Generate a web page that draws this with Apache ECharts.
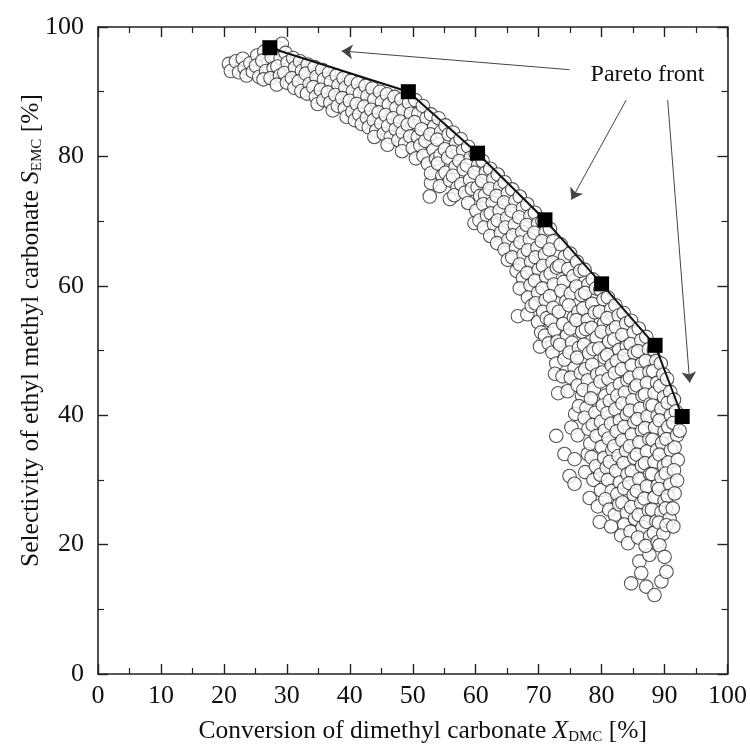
<!DOCTYPE html>
<html lang="en">
<head>
    <meta charset="UTF-8">
    <title>Pareto front</title>
    <script src="https://cdn.jsdelivr.net/npm/echarts@6/dist/echarts.min.js"></script>
</head>
<body style="margin:0;background:#fff;">
<div id="main" style="width: 750px;height:752px;"></div>
<script type="text/javascript">
    // pareto front points
    var paretoX = [27.3, 49.3, 60.3, 71.0, 80.0, 88.5, 92.8];
    var paretoY = [96.8, 90.0, 80.5, 70.2, 60.3, 50.8, 39.8];

    var cloudUpper = [
        [20.8,94.3],[21.1,93.2],[21.9,94.7],[22.4,93.0],[23.0,95.1],[23.3,93.7],[23.6,92.5],[24.2,94.4],[24.6,93.1],
        [25.3,95.6],[25.1,94.0],[25.6,92.3],[26.4,96.2],[26.1,94.8],[26.7,93.2],[26.3,91.9],[27.6,95.3],[27.9,93.6],
        [27.4,92.1],[28.7,96.8],[29.2,97.4],[29.0,95.2],[28.5,93.9],[28.9,92.5],[28.4,91.1],[29.8,96.0],[30.1,94.5],
        [29.6,92.9],[30.0,91.4],[31.0,95.2],[31.3,93.7],[30.8,92.1],[31.2,90.6],[32.1,94.7],[32.4,93.2],[31.9,91.6],
        [32.3,90.1],[33.3,94.2],[33.0,92.8],[33.6,91.2],[33.2,89.7],[34.4,93.8],[34.7,92.3],[34.2,90.7],[34.6,89.2],
        [34.9,88.1],[35.6,93.4],[35.9,91.9],[35.4,90.3],[35.8,88.7],[36.7,92.9],[37.0,91.5],[36.5,89.9],[36.9,88.3],
        [37.3,87.1],[37.9,92.5],[38.2,91.0],[37.7,89.5],[38.1,87.8],[39.0,92.1],[39.3,90.6],[38.8,89.0],[39.2,87.4],
        [39.5,86.1],[40.2,91.7],[40.5,90.1],[40.0,88.6],[40.4,86.9],[40.8,85.6],[41.3,91.3],[41.6,89.7],[41.1,88.1],
        [41.5,86.5],[41.9,85.0],[42.5,90.9],[42.8,89.3],[42.3,87.7],[42.7,86.0],[43.0,84.5],[43.6,90.5],[43.9,88.8],
        [43.4,87.2],[43.8,85.6],[44.2,84.0],[43.9,83.0],[44.8,90.0],[45.1,88.4],[44.6,86.8],[45.0,85.1],[45.4,83.5],
        [45.9,89.6],[46.2,88.0],[45.7,86.4],[46.1,84.7],[46.5,83.0],[46.0,81.8],[47.1,89.2],[47.4,87.5],[46.9,85.9],
        [47.3,84.2],[47.7,82.5],[48.2,88.8],[48.5,87.1],[48.0,85.4],[48.4,83.7],[48.8,82.0],[48.3,80.8],[49.4,88.3],
        [49.7,86.6],[49.2,84.9],[49.6,83.1],[50.0,81.3]
    ];
    var cloudMiddle = [
        [50.4,88.7],[50.9,86.6],[50.3,85.3],[50.8,83.0],[51.2,81.7],[50.5,79.7],
        [51.6,87.8],[52.2,85.9],[51.4,84.2],[52.0,82.4],[51.7,80.1],[52.4,78.9],[52.7,73.8],[52.9,75.9],
        [52.9,86.5],[53.4,84.6],[52.8,83.4],[53.3,81.0],[53.7,79.6],[52.9,77.4],
        [54.1,85.9],[54.5,83.8],[53.9,82.6],[54.4,80.2],[54.0,78.9],[54.7,77.0],[54.3,75.4],
        [55.2,84.8],[55.7,83.4],[55.1,81.1],[55.6,79.8],[55.2,77.5],[55.9,76.3],[55.9,73.4],
        [56.4,83.7],[56.9,82.0],[56.3,80.7],[56.8,78.4],[56.4,77.0],[57.1,75.2],[56.6,74.0],
        [57.6,82.7],[58.0,80.9],[57.4,79.3],[58.1,78.0],[57.7,75.7],[58.3,74.4],
        [58.8,81.5],[59.2,79.8],[58.6,78.6],[59.1,76.4],[59.4,75.0],[58.8,72.8],[59.8,69.7],
        [60.0,80.4],[60.4,78.7],[59.8,77.5],[60.3,75.2],[60.7,73.9],[60.1,71.6],[60.6,70.1],
        [61.1,79.3],[61.6,77.5],[61.0,76.2],[61.5,74.0],[61.2,72.6],[61.8,70.9],[61.3,69.0],
        [62.3,78.1],[62.8,76.5],[62.2,75.0],[62.7,72.8],[62.4,71.2],[62.9,69.5],[62.3,67.7],
        [63.5,77.2],[63.9,75.3],[63.3,73.9],[63.8,71.6],[63.5,70.1],[64.0,68.2],[63.4,66.6],
        [64.6,76.0],[65.1,74.3],[64.5,72.9],[65.0,70.5],[64.7,69.0],[65.2,67.1],[64.6,65.6],[65.1,64.0],
        [65.8,74.9],[66.3,73.1],[65.7,71.6],[66.2,69.4],[65.9,67.8],[66.4,65.9],[65.8,64.4],[66.5,62.3],[66.7,55.3],
        [67.0,73.8],[67.5,72.0],[66.9,70.6],[67.4,68.3],[67.1,66.7],[67.6,64.8],[67.0,63.3],[67.5,61.2],[67.0,59.6],
        [68.2,55.6],
        [68.2,72.6],[68.7,70.8],[68.1,69.4],[68.6,67.2],[68.3,65.5],[68.8,63.7],[68.2,62.0],[68.7,60.1],[68.3,58.2],
        [68.9,56.9],
        [69.4,71.3],[69.9,69.6],[69.3,68.2],[69.8,65.9],[69.5,64.4],[70.0,62.5],[69.4,60.8],[69.9,58.9],[69.5,57.3],
        [69.9,54.4],[70.4,52.8],[70.2,50.6],
        [70.6,70.0],[71.1,68.3],[70.5,66.9],[71.0,64.8],[70.7,63.1],[71.2,61.4],[70.6,59.6],[71.1,57.8],[70.7,56.0],
        [71.3,55.0],[71.0,52.3],[71.6,51.1],
        [71.8,68.8],[72.3,66.9],[71.7,65.6],[72.2,63.6],[71.9,61.9],[72.4,60.2],[71.8,58.4],[72.3,56.6],[71.9,54.6],
        [72.5,53.2],[72.2,49.7],[72.8,48.0],[72.6,46.4],[73.0,51.4],[72.9,62.8]
    ];
    var cloudLower = [
        [73.5,66.4],[74.2,64.5],[73.3,63.1],[74.0,60.6],[73.6,59.2],[74.4,57.6],[73.2,56.0],[73.9,54.1],[74.5,52.3],
        [73.4,50.9],[74.1,48.6],[73.8,46.0],[73.1,43.4],[72.8,36.8],
        [75.0,65.0],[74.7,62.6],[75.5,61.5],[75.1,58.8],[74.8,57.0],[75.6,55.1],[75.0,53.4],[75.3,51.2],[74.9,49.7],
        [75.7,47.3],[75.1,45.8],[74.6,43.7],[75.2,38.1],[74.1,34.0],[74.9,30.6],[75.8,40.2],
        [76.1,63.7],[76.6,62.3],[76.0,59.9],[76.8,58.6],[76.3,56.0],[76.0,54.7],[76.9,52.9],[76.4,50.4],[76.1,48.9],
        [76.7,46.5],[76.2,44.6],[76.9,43.0],[76.4,41.4],[76.2,36.9],[75.7,33.2],[75.7,29.4],
        [77.3,62.5],[77.9,60.2],[77.4,58.9],[77.1,56.5],[77.8,54.7],[77.5,53.3],[77.2,50.9],[78.0,49.6],[77.4,47.1],
        [77.8,45.4],[77.1,43.9],[77.6,41.1],[77.3,39.6],[77.9,37.9],[77.8,34.0],[77.4,31.2],[78.2,35.6],
        [78.6,61.0],[79.1,59.6],[78.5,57.2],[78.9,55.9],[78.4,53.5],[79.2,52.0],[78.7,50.2],[78.5,47.8],[79.3,46.3],
        [78.8,44.1],[78.3,42.6],[79.0,40.4],[78.6,38.5],[79.2,36.8],[78.4,33.5],[78.1,27.2],[78.7,30.0],[79.1,32.1],
        [79.8,59.4],[80.3,57.9],[79.7,56.0],[80.4,54.2],[80.0,52.9],[79.6,50.3],[80.5,48.9],[80.1,46.6],[79.8,45.2],
        [80.6,43.0],[80.2,41.5],[79.9,39.0],[80.5,37.6],[80.0,35.1],[80.4,33.4],[79.8,30.8],[79.4,25.9],[79.9,28.4],
        [80.8,31.9],
        [81.0,58.2],[81.5,56.4],[80.9,55.0],[81.7,53.1],[81.2,51.4],[80.9,49.3],[81.6,47.7],[81.1,45.6],[81.8,44.0],
        [81.3,42.2],[80.9,40.3],[81.5,38.7],[81.1,36.4],[81.7,34.6],[81.3,32.8],[81.0,30.0],[81.6,28.3],[80.6,27.0],
        [79.7,23.5],[81.2,25.4],
        [82.2,57.0],[82.7,55.4],[82.3,53.6],[82.0,51.7],[82.8,50.1],[82.4,48.4],[82.1,46.5],[82.9,44.8],[82.5,43.0],
        [82.2,40.9],[82.9,39.2],[82.4,37.5],[82.0,35.2],[82.7,33.7],[82.3,31.4],[82.9,29.6],[82.5,27.8],[82.1,24.6],
        [82.8,26.2],[81.5,22.8],
        [83.5,55.8],[83.9,54.2],[83.3,52.4],[84.0,50.6],[83.6,49.2],[83.2,47.1],[84.1,45.4],[83.7,43.5],[83.3,41.8],
        [84.0,40.1],[83.6,38.2],[83.3,36.1],[83.9,34.5],[83.5,32.6],[84.1,30.9],[83.6,28.7],[83.3,26.5],[84.0,24.9],
        [83.6,23.1],[83.1,21.4],
        [84.7,54.6],[85.1,52.8],[84.6,51.0],[85.2,49.6],[84.8,47.7],[84.5,45.8],[85.3,44.2],[84.9,42.3],[84.5,40.7],
        [85.2,38.9],[84.8,37.0],[84.5,35.2],[85.2,33.4],[84.8,31.3],[84.4,29.5],[85.1,27.7],[84.7,25.8],[85.3,24.0],
        [84.6,22.0],[84.2,20.2],[84.7,14.0],
        [85.9,53.4],[86.3,51.6],[85.8,49.9],[86.4,48.0],[86.0,46.4],[85.6,44.6],[86.5,43.0],[86.1,41.0],[85.7,39.4],
        [86.4,37.6],[86.0,35.8],[85.6,33.9],[86.4,32.2],[86.0,30.1],[85.6,28.3],[86.3,26.4],[85.9,24.6],[86.5,22.7],
        [85.8,21.1],[86.0,17.4],[86.3,15.6],
        [87.1,52.1],[87.5,50.2],[87.0,48.4],[87.6,46.7],[87.2,45.0],[86.9,43.2],[87.7,41.7],[87.3,39.8],[86.9,38.0],
        [87.6,36.3],[87.2,34.4],[86.9,32.6],[87.7,30.9],[87.2,29.0],[86.8,27.1],[87.5,25.3],[87.1,23.5],[87.7,21.3],
        [87.6,18.4],[87.1,13.5],[87.0,19.8],
        [88.3,50.1],[88.7,48.4],[88.2,46.8],[88.8,45.0],[88.4,43.4],[88.1,41.5],[88.9,39.9],[88.5,38.1],[88.1,36.2],
        [88.8,34.6],[88.4,32.8],[88.0,30.9],[88.9,29.1],[88.4,27.3],[88.0,25.4],[88.7,23.6],[88.3,21.8],[88.9,20.4],
        [88.4,12.2],
        [89.4,48.0],[89.8,46.3],[89.3,44.5],[89.9,42.8],[89.5,41.0],[89.2,39.2],[90.0,37.5],[89.6,35.7],[89.2,33.9],
        [89.9,32.2],[89.5,30.4],[89.1,28.6],[90.0,26.8],[89.5,25.0],[89.1,23.4],[89.8,21.7],[89.2,19.9],[90.0,18.1],
        [89.5,14.3],
        [90.4,45.6],[90.9,43.6],[90.5,41.9],[91.0,40.0],[90.6,38.2],[90.3,36.3],[91.0,34.6],[90.6,32.7],[90.2,31.0],
        [90.9,29.3],[90.5,27.5],[90.2,25.6],[90.8,24.0],[90.3,23.0],[90.3,15.8],
        [91.5,42.4],[91.8,40.6],[91.4,38.8],[92.0,36.9],[91.6,35.0],[92.1,33.1],[91.5,31.5],[92.0,29.9],[91.6,27.9],
        [91.3,25.6],[91.4,22.8],[92.4,37.6]
    ];

    // annotation: label position and arrow start/end
    var noteText = 'Pareto front';
    var notePos = [87.3, 92.7];
    var arrows = [
        [[74.9, 93.4], [38.7, 96.3]],
        [[83.9, 88.7], [75.2, 73.3]],
        [[90.5, 88.7], [94.0, 45.0]]
    ];

    var xTicks = [0, 10, 20, 30, 40, 50, 60, 70, 80, 90, 100];
    var yTicks = [0, 20, 40, 60, 80, 100];

    var font = '"Liberation Serif", "Times New Roman", serif';
    var ink = '#111';

    var cloud = cloudUpper.concat(cloudMiddle, cloudLower);
    var pareto = [];
    for (var i = 0; i < paretoX.length; i++) {
        pareto.push([paretoX[i], paretoY[i]]);
    }

    var arrowLines = [];
    for (var j = 0; j < arrows.length; j++) {
        arrowLines.push([{coord: arrows[j][0]}, {coord: arrows[j][1]}]);
    }

    function axisBase(min, max, step, showLabel, ticks) {
        return {
            type: 'value',
            min: min,
            max: max,
            interval: step,
            nameMoveOverlap: false,
            axisLine: {show: true, onZero: false, lineStyle: {color: '#222', width: 1.6}},
            axisTick: {show: true, inside: true, length: 10, lineStyle: {color: '#222', width: 1.4}},
            minorTick: {show: true, splitNumber: 2, length: 6, lineStyle: {color: '#222', width: 1.2}},
            splitLine: {show: false},
            minorSplitLine: {show: false},
            axisLabel: {
                show: showLabel,
                fontFamily: font,
                fontSize: 26,
                color: ink,
                margin: 9,
                formatter: function (v) {
                    return ticks.indexOf(v) >= 0 ? String(v) : '';
                }
            }
        };
    }

    var nameRich = {
        i: {fontFamily: font, fontSize: 25.5, fontStyle: 'italic', color: ink},
        sub: {fontFamily: font, fontSize: 15, color: ink, padding: [13, 0, 0, 0]}
    };

    var xBottom = axisBase(0, 100, 10, true, xTicks);
    xBottom.position = 'bottom';
    xBottom.name = 'Conversion of dimethyl carbonate {i|X}{sub|DMC} [%]';
    xBottom.nameLocation = 'middle';
    xBottom.nameGap = 43;
    xBottom.nameTextStyle = {fontFamily: font, fontSize: 25.5, color: ink, rich: nameRich, padding: [0, 0, 0, 20]};
    var xTop = axisBase(0, 100, 10, false, xTicks);
    xTop.position = 'top';

    var yLeft = axisBase(0, 100, 20, true, yTicks);
    yLeft.position = 'left';
    yLeft.axisLabel.margin = 14;
    yLeft.name = 'Selectivity of ethyl methyl carbonate {i|S}{sub|EMC} [%]';
    yLeft.nameLocation = 'middle';
    yLeft.nameGap = 53;
    yLeft.nameTextStyle = {fontFamily: font, fontSize: 25.5, color: ink, rich: nameRich, padding: [0, 0, 0, 40]};
    var yRight = axisBase(0, 100, 20, false, yTicks);
    yRight.position = 'right';

    var myChart = echarts.init(document.getElementById('main'));
    myChart.setOption({
        animation: false,
        backgroundColor: '#fff',
        grid: {left: 98, right: 22, top: 27, bottom: 78, containLabel: false},
        xAxis: [xBottom, xTop],
        yAxis: [yLeft, yRight],
        series: [
            {
                name: 'samples',
                type: 'scatter',
                data: cloud,
                symbol: 'circle',
                symbolSize: 13.5,
                itemStyle: {color: '#fff', borderColor: '#2a2a2a', borderWidth: 1.1},
                z: 2
            },
            {
                name: 'Pareto front',
                type: 'line',
                data: pareto,
                symbol: 'rect',
                symbolSize: 15,
                showAllSymbol: true,
                itemStyle: {color: '#000', borderWidth: 0},
                lineStyle: {color: '#111', width: 2},
                z: 5,
                markLine: {
                    silent: true,
                    symbol: ['none', 'arrow'],
                    symbolSize: 11,
                    label: {show: false},
                    lineStyle: {color: '#444', width: 1, type: 'solid'},
                    data: arrowLines
                },
                markPoint: {
                    silent: true,
                    symbol: 'rect',
                    symbolSize: 1,
                    itemStyle: {color: 'rgba(0,0,0,0)'},
                    label: {
                        show: true,
                        position: 'inside',
                        formatter: noteText,
                        fontFamily: font,
                        fontSize: 24,
                        color: ink
                    },
                    data: [{coord: notePos}]
                }
            }
        ]
    });
</script>
</body>
</html>
